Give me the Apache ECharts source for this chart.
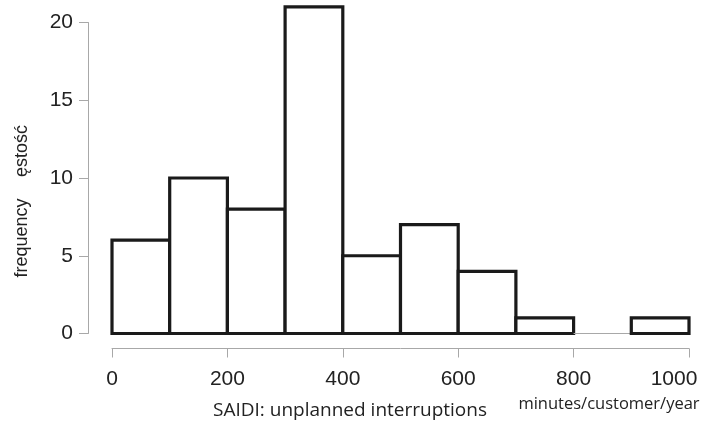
<!DOCTYPE html>
<html>
<head>
<meta charset="utf-8">
<script src="https://cdn.jsdelivr.net/npm/echarts@6/dist/echarts.min.js"></script>
<style>html,body{margin:0;padding:0;background:#fff}#c{width:717px;height:425px}</style>
</head>
<body>
<div id="c"></div>
<script>
var binStarts = [0, 100, 200, 300, 400, 500, 600, 700, 800, 900];
var binEnds = [100, 200, 300, 400, 500, 600, 700, 800, 900, 1000];
var counts = [6, 10, 8, 21, 5, 7, 4, 1, 0, 1];
var xTicks = [0, 200, 400, 600, 800, 1000];
var yTicks = [0, 5, 10, 15, 20];

var data = binStarts.map(function (s, i) { return [s, binEnds[i], counts[i]]; });

var chart = echarts.init(document.getElementById('c'), null, {renderer: 'canvas'});
chart.setOption({
  backgroundColor: '#fff',
  animation: false,
  grid: {left: 112, right: 28, top: 22.5, bottom: 91.5},
  xAxis: {
    type: 'value', min: 0, max: 1000, interval: 200, position: 'bottom', offset: 15,
    axisLine: {onZero: false, lineStyle: {color: '#a8a8a8', width: 1}},
    axisTick: {length: 9, lineStyle: {color: '#a8a8a8'}},
    splitLine: {show: false},
    axisLabel: {
      margin: 20, color: '#222', fontSize: 21, fontFamily: 'Liberation Sans',
      formatter: function (v) { return v === 1000 ? '{r|1000}' : String(v); },
      rich: {r: {fontSize: 21, fontFamily: 'Liberation Sans', color: '#222', padding: [0, 30, 0, 0]}}
    }
  },
  yAxis: {
    type: 'value', min: 0, max: 20, interval: 5, offset: 24,
    axisLine: {show: true, onZero: false, lineStyle: {color: '#a8a8a8', width: 1}},
    axisTick: {show: true, length: 9, lineStyle: {color: '#a8a8a8'}},
    splitLine: {show: false},
    axisLabel: {margin: 15, color: '#222', fontSize: 21, fontFamily: 'Liberation Sans'}
  },
  series: [{
    type: 'custom',
    clip: false,
    data: data,
    renderItem: function (params, api) {
      var p0 = api.coord([api.value(0), 0]);
      var p1 = api.coord([api.value(1), api.value(2)]);
      if (api.value(2) === 0) {
        return {type: 'line', shape: {x1: p0[0], y1: p0[1], x2: p1[0], y2: p0[1]},
          style: {stroke: '#a8a8a8', lineWidth: 1}};
      }
      return {
        type: 'rect',
        shape: {x: p0[0], y: p1[1], width: p1[0] - p0[0], height: p0[1] - p1[1]},
        style: {fill: '#fff', stroke: '#1a1a1a', lineWidth: 3.2, lineJoin: 'miter'}
      };
    }
  }],
  graphic: [
    {type: 'text', x: 22, y: 238, rotation: Math.PI / 2,
      style: {text: 'frequency', fontSize: 18, fontFamily: 'Liberation Sans', fill: '#222',
        textAlign: 'center', textVerticalAlign: 'middle'}},
    {type: 'text', x: 22, y: 151, rotation: Math.PI / 2,
      style: {text: 'ęstość', fontSize: 18, fontFamily: 'Liberation Sans', fill: '#222',
        textAlign: 'center', textVerticalAlign: 'middle'}},
    {type: 'text', x: 350, y: 411,
      style: {text: 'SAIDI: unplanned interruptions', fontSize: 19, fontFamily: 'Open Sans', fill: '#222',
        textAlign: 'center', textVerticalAlign: 'middle'}},
    {type: 'text', x: 609, y: 404,
      style: {text: 'minutes/customer/year', fontSize: 16.5, fontFamily: 'Open Sans', fill: '#222',
        textAlign: 'center', textVerticalAlign: 'middle'}}
  ]
});
</script>
</body>
</html>
